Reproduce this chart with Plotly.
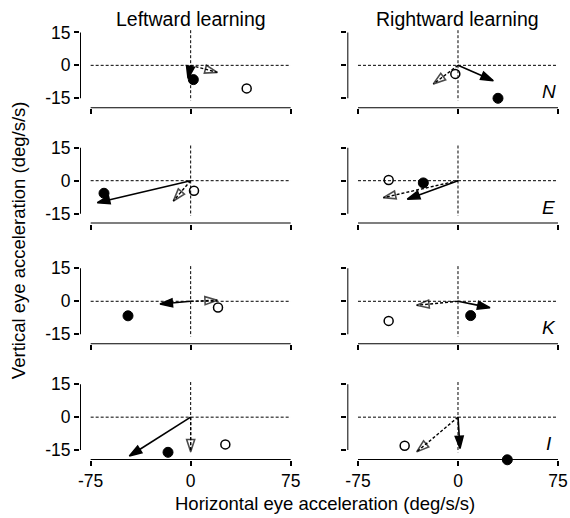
import plotly.graph_objects as go
from plotly.subplots import make_subplots

# ---- data (deg/s/s), panel order: N-left, N-right, E-left, E-right, K-left, K-right, I-left, I-right
panel_rows = [1, 1, 2, 2, 3, 3, 4, 4]
panel_cols = [1, 2, 1, 2, 1, 2, 1, 2]
monkeys = ["N", "E", "K", "I"]
col_titles = ["Leftward learning", "Rightward learning"]

filled_x = [2, 30, -65, -26, -47, 9.5, -17, 37]
filled_y = [-6.5, -15, -5.7, -1, -6.6, -6.5, -16, -19.4]
open_x = [42, -2, 2.5, -52, 20.5, -52, 26, -40]
open_y = [-10.5, -3.9, -4.6, 0.3, -2.8, -8.9, -12.4, -13]
solid_tip_x = [-2, 26.5, -70, -38, -23, 24, -46, 1.5]
solid_tip_y = [-6, -7, -10, -8.4, -1.2, -2.9, -17.7, -14.3]
dashed_tip_x = [20, -18.5, -13, -56, 20, -31, 0, -31]
dashed_tip_y = [-3.2, -8.5, -9.2, -7.7, 0.5, -1.8, -15.8, -15.8]

x_tickvals = [-75, 0, 75]
x_ticktext = ["-75", "0", "75"]
y_tickvals = [15, 0, -15]
y_ticktext = ["15", "0", "-15"]

XR = [-83, 78]
YR = [-19.5, 17]
FONT = "Liberation Sans, Arial, sans-serif"

fig = make_subplots(rows=4, cols=2)

col_domains = [[0.0, 0.4454], [0.5546, 1.0]]
row_domains = [[0.8144, 1.0], [0.5472, 0.7331], [0.2681, 0.4539], [0.0, 0.1856]]

for i in range(8):
    r, c = panel_rows[i], panel_cols[i]
    # reference lines
    fig.add_shape(type="line", x0=-75, x1=75, y0=0, y1=0,
                  line=dict(color="black", width=1, dash="3px,2px"), row=r, col=c)
    fig.add_shape(type="line", x0=0, x1=0, y0=16, y1=-16,
                  line=dict(color="black", width=1, dash="3px,2px"), row=r, col=c)
    # range-frame axis lines
    fig.add_shape(type="line", x0=-75, x1=75, y0=YR[0], y1=YR[0],
                  line=dict(color="black", width=2), row=r, col=c)
    fig.add_shape(type="line", x0=XR[0], x1=XR[0], y0=-15, y1=15,
                  line=dict(color="black", width=2), row=r, col=c)

    # dashed arrow with open head
    fig.add_trace(go.Scatter(
        x=[0, dashed_tip_x[i]], y=[0, dashed_tip_y[i]], mode="lines+markers",
        line=dict(color="black", width=1.4, dash="3px,2px"),
        marker=dict(symbol=["circle", "arrow-open"], size=[0, 13], angleref="previous",
                    color="black", line=dict(color="black", width=1.6)),
        cliponaxis=False, showlegend=False, hoverinfo="skip"), row=r, col=c)
    # solid arrow with filled head
    fig.add_trace(go.Scatter(
        x=[0, solid_tip_x[i]], y=[0, solid_tip_y[i]], mode="lines+markers",
        line=dict(color="black", width=1.6),
        marker=dict(symbol=["circle", "arrow"], size=[0, 13], angleref="previous",
                    color="black", opacity=1, line=dict(color="black", width=1.5)),
        cliponaxis=False, showlegend=False, hoverinfo="skip"), row=r, col=c)
    # data points
    fig.add_trace(go.Scatter(
        x=[open_x[i]], y=[open_y[i]], mode="markers",
        marker=dict(symbol="circle", size=9, color="white", line=dict(color="black", width=1.5)),
        cliponaxis=False, showlegend=False), row=r, col=c)
    fig.add_trace(go.Scatter(
        x=[filled_x[i]], y=[filled_y[i]], mode="markers",
        marker=dict(symbol="circle", size=10, color="black", line=dict(color="black", width=1)),
        cliponaxis=False, showlegend=False), row=r, col=c)

    fig.update_xaxes(range=XR, domain=col_domains[c - 1], tickvals=x_tickvals, ticktext=x_ticktext,
                     ticks="outside", ticklen=5, tickwidth=1.5, tickcolor="black", automargin=False,
                     showticklabels=(r == 4), showgrid=False, zeroline=False, showline=False,
                     tickfont=dict(family=FONT, size=17.5, color="black"), row=r, col=c)
    fig.update_yaxes(range=YR, domain=row_domains[r - 1], tickvals=y_tickvals, ticktext=y_ticktext,
                     ticks="outside", ticklen=5, tickwidth=1.5, tickcolor="black", automargin=False,
                     showticklabels=(c == 1), showgrid=False, zeroline=False, showline=False,
                     tickfont=dict(family=FONT, size=17.5, color="black"), row=r, col=c)

# monkey labels on right column
for k, m in enumerate(monkeys):
    fig.add_annotation(text=f"<i>{m}</i>", x=68, y=-12, xref=f"x{2 * k + 2}", yref=f"y{2 * k + 2}",
                       showarrow=False, xanchor="center", yanchor="middle",
                       font=dict(family=FONT, size=19, color="black"))

# column titles
fig.add_annotation(text=col_titles[0], x=0.2296, y=1.02, xref="paper", yref="paper",
                   showarrow=False, xanchor="center", yanchor="middle",
                   font=dict(family=FONT, size=19.5, color="black"))
fig.add_annotation(text=col_titles[1], x=0.7837, y=1.02, xref="paper", yref="paper",
                   showarrow=False, xanchor="center", yanchor="middle",
                   font=dict(family=FONT, size=19.5, color="black"))
# axis titles
fig.add_annotation(text="Horizontal eye acceleration (deg/s/s)", x=0.508, y=-0.101,
                   xref="paper", yref="paper", showarrow=False, xanchor="center", yanchor="middle",
                   font=dict(family=FONT, size=18.5, color="black"))
fig.add_annotation(text="Vertical eye acceleration (deg/s/s)", x=-0.1286, y=0.509,
                   xref="paper", yref="paper", showarrow=False, textangle=-90,
                   xanchor="center", yanchor="middle",
                   font=dict(family=FONT, size=18.5, color="black"))

fig.update_layout(width=570, height=518, margin=dict(l=80, r=8, t=28, b=58, autoexpand=False),
                  paper_bgcolor="white", plot_bgcolor="white", showlegend=False,
                  template="none")

fig.write_html("out.html")
